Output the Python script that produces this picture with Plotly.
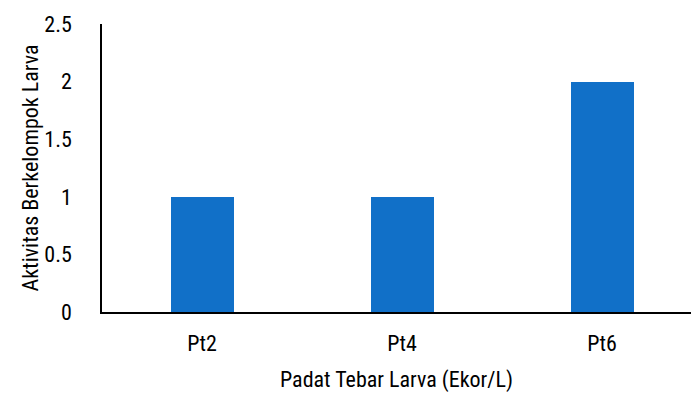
import plotly.graph_objects as go

categories = ["Pt2", "Pt4", "Pt6"]
values = [1, 1, 2]
y_ticks = [0, 0.5, 1, 1.5, 2, 2.5]
y_tick_text = ["0", "0.5", "1", "1.5", "2", "2.5"]

font_family = "Roboto Condensed, Liberation Sans, Arial, sans-serif"
label_font = dict(family=font_family, size=22, color="#000000", weight=400)

fig = go.Figure(
    go.Bar(
        x=categories,
        y=values,
        marker=dict(color="#1170C8", line=dict(width=0)),
        width=0.315,
    )
)

fig.update_layout(
    width=691,
    height=394,
    margin=dict(l=102, r=0, t=24, b=82),
    paper_bgcolor="white",
    plot_bgcolor="white",
    font=label_font,
    showlegend=False,
    bargap=0,
)

fig.update_xaxes(
    range=[-0.5, 2.445],
    showline=True,
    linecolor="#000000",
    linewidth=1.5,
    showgrid=False,
    ticks="",
    tickfont=label_font,
    ticklabelstandoff=11,
    title=dict(text="Padat Tebar Larva (Ekor/L)", standoff=16, font=label_font),
)

fig.update_yaxes(
    range=[0, 2.5],
    tickvals=y_ticks,
    ticktext=y_tick_text,
    showline=True,
    linecolor="#000000",
    linewidth=1.5,
    showgrid=False,
    zeroline=False,
    ticks="",
    tickfont=label_font,
    ticklabelstandoff=24,
    title=dict(text="Aktivitas Berkelompok Larva", standoff=0, font=label_font),
)

fig.write_html("out.html")
